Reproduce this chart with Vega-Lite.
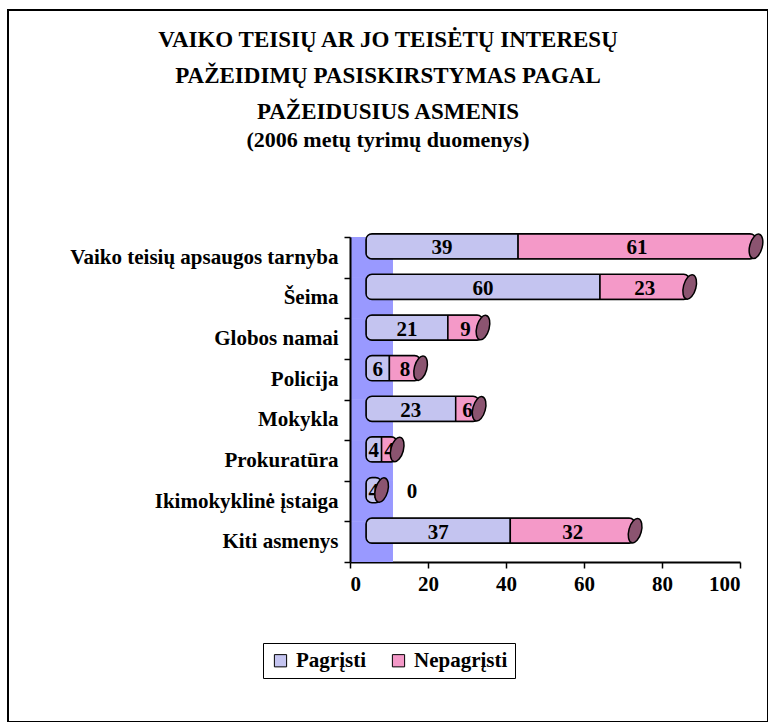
{
  "$schema": "https://vega.github.io/schema/vega-lite/v6.json",
  "width": 760,
  "height": 712,
  "autosize": {"type": "none"},
  "padding": {"left": 8, "top": 10, "right": 0, "bottom": 0},
  "background": "white",
  "config": {
    "view": {"stroke": "black", "strokeWidth": 2},
    "font": "Liberation Serif",
    "axis": {
      "labelFont": "Liberation Serif",
      "labelFontWeight": "bold",
      "labelColor": "black",
      "labelFontSize": 21,
      "labelLimit": 400,
      "domainColor": "black",
      "domainWidth": 2,
      "tickColor": "black",
      "tickWidth": 1.5,
      "tickSize": 6,
      "grid": false,
      "title": null
    }
  },
  "title": {
    "text": ["VAIKO TEISIŲ AR JO TEISĖTŲ INTERESŲ", "PAŽEIDIMŲ PASISKIRSTYMAS PAGAL", "PAŽEIDUSIUS ASMENIS"],
    "subtitle": "(2006 metų tyrimų duomenys)",
    "anchor": "middle",
    "frame": "group",
    "offset": -152,
    "font": "Liberation Serif",
    "fontSize": 23,
    "fontWeight": "bold",
    "lineHeight": 36,
    "color": "black",
    "subtitleFont": "Liberation Serif",
    "subtitleFontSize": 22,
    "subtitleFontWeight": "bold",
    "subtitleColor": "black",
    "subtitlePadding": 6
  },
  "data": {
    "values": [
      {"category": "Vaiko teisių apsaugos tarnyba", "series": "Pagrįsti", "value": 39},
      {"category": "Vaiko teisių apsaugos tarnyba", "series": "Nepagrįsti", "value": 61},
      {"category": "Šeima", "series": "Pagrįsti", "value": 60},
      {"category": "Šeima", "series": "Nepagrįsti", "value": 23},
      {"category": "Globos namai", "series": "Pagrįsti", "value": 21},
      {"category": "Globos namai", "series": "Nepagrįsti", "value": 9},
      {"category": "Policija", "series": "Pagrįsti", "value": 6},
      {"category": "Policija", "series": "Nepagrįsti", "value": 8},
      {"category": "Mokykla", "series": "Pagrįsti", "value": 23},
      {"category": "Mokykla", "series": "Nepagrįsti", "value": 6},
      {"category": "Prokuratūra", "series": "Pagrįsti", "value": 4},
      {"category": "Prokuratūra", "series": "Nepagrįsti", "value": 4},
      {"category": "Ikimokyklinė įstaiga", "series": "Pagrįsti", "value": 4},
      {"category": "Ikimokyklinė įstaiga", "series": "Nepagrįsti", "value": 0},
      {"category": "Kiti asmenys", "series": "Pagrįsti", "value": 37},
      {"category": "Kiti asmenys", "series": "Nepagrįsti", "value": 32}
    ]
  },
  "layer": [
    {
      "mark": {"type": "rect", "fill": "#9999ff"},
      "encoding": {
        "y": {
          "field": "category", "type": "nominal", "sort": null,
          "scale": {"range": [227, 552], "paddingInner": 0, "paddingOuter": 0},
          "axis": {"orient": "left", "offset": -342, "tickBand": "extent", "labelPadding": 6}
        },
        "x": {
          "datum": 0, "type": "quantitative",
          "scale": {"domain": [0, 100], "range": [342, 732], "nice": false},
          "axis": {"orient": "bottom", "offset": -160, "values": [0, 20, 40, 60, 80, 100], "labelPadding": 5}
        },
        "x2": {"datum": 11}
      }
    },
    {
      "layer": [
        {
          "mark": {"type": "bar", "stroke": "black", "strokeWidth": 1.5, "cornerRadius": 6},
          "encoding": {
            "y": {
              "field": "category", "type": "nominal", "sort": null,
              "scale": {"range": [216, 541], "paddingInner": 0.38, "paddingOuter": 0.19},
              "axis": null
            },
            "x": {
              "field": "value", "type": "quantitative", "stack": "zero",
              "scale": {"domain": [0, 100], "range": [358, 748], "nice": false},
              "axis": null
            },
            "color": {
              "field": "series", "type": "nominal",
              "scale": {"domain": ["Pagrįsti", "Nepagrįsti"], "range": ["#c4c4f0", "#f499c8"]},
              "legend": {
                "orient": "none", "legendX": 255, "legendY": 633,
                "direction": "horizontal", "title": null,
                "strokeColor": "black", "padding": 7,
                "symbolType": "square", "symbolSize": 150,
                "symbolStrokeColor": "black", "symbolStrokeWidth": 1,
                "labelFont": "Liberation Serif", "labelFontWeight": "bold",
                "labelFontSize": 21, "labelColor": "black",
                "columnPadding": 22, "labelOffset": 5
              }
            },
            "order": {"field": "series", "sort": "descending"}
          }
        },
        {
          "transform": [{"filter": "datum.value > 0"}],
          "mark": {"type": "text", "font": "Liberation Serif", "fontWeight": "bold", "fontSize": 21, "dy": 2, "color": "black"},
          "encoding": {
            "y": {"field": "category", "type": "nominal", "sort": null},
            "x": {"field": "value", "type": "quantitative", "stack": "zero", "bandPosition": 0.5},
            "detail": {"field": "series"},
            "order": {"field": "series", "sort": "descending"},
            "text": {"field": "value", "type": "quantitative"}
          }
        },
        {
          "mark": {
            "type": "point",
            "shape": "M0,-1A0.5,1,0,1,1,0,1A0.5,1,0,1,1,0,-1Z",
            "size": 625, "angle": 15, "filled": true,
            "fill": "#8b5470", "stroke": "black", "strokeWidth": 1.5, "opacity": 1
          },
          "encoding": {
            "y": {"field": "category", "type": "nominal", "sort": null},
            "x": {"aggregate": "sum", "field": "value", "type": "quantitative"}
          }
        },
        {
          "transform": [{"filter": "datum.value == 0"}],
          "mark": {"type": "text", "font": "Liberation Serif", "fontWeight": "bold", "fontSize": 21, "dy": 2, "dx": 46, "color": "black"},
          "encoding": {
            "y": {"field": "category", "type": "nominal", "sort": null},
            "x": {"field": "value", "type": "quantitative", "stack": "zero", "bandPosition": 0.5},
            "detail": {"field": "series"},
            "order": {"field": "series", "sort": "descending"},
            "text": {"field": "value", "type": "quantitative"}
          }
        }
      ]
    }
  ],
  "resolve": {
    "scale": {"x": "independent", "y": "independent"},
    "axis": {"x": "independent", "y": "independent"}
  }
}
